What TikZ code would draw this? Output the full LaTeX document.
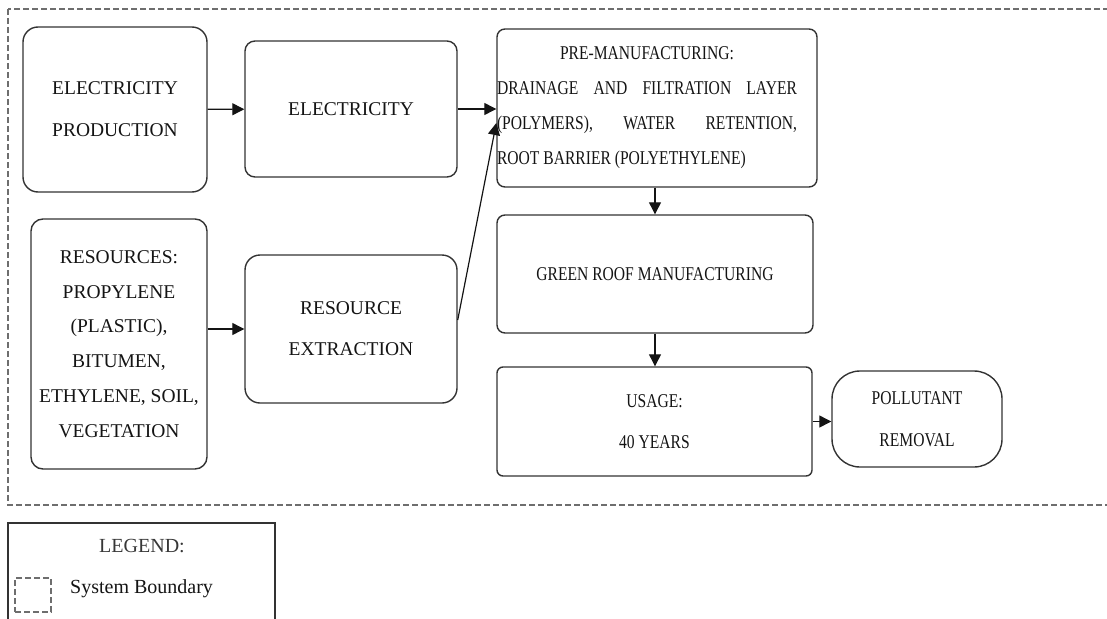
\documentclass[tikz,border=0pt]{standalone}
\usepackage{fontspec}
\setmainfont{Liberation Serif}
\newfontfamily\narrowserif[FakeStretch=0.8]{Liberation Serif}
\usetikzlibrary{arrows.meta}

\definecolor{ink}{HTML}{141414}
\definecolor{edge}{HTML}{333333}
\definecolor{dashgray}{HTML}{6E6E6E}

\tikzset{
  stage/.style={draw=edge, line width=1.4pt, text=ink, inner sep=0pt,
                align=center, font=\fontsize{19.5}{42}\selectfont},
  narrowstage/.style={stage, font=\narrowserif\fontsize{19.5}{41}\selectfont},
  flow/.style={draw=ink, line width=1.2pt, -{Triangle[length=12pt,width=12pt]}},
  boundary/.style={draw=dashgray, line width=1.1pt, dash pattern=on 6pt off 3pt},
}

\begin{document}
\begin{tikzpicture}[x=1pt, y=-1pt]
\useasboundingbox (0,0) rectangle (1107,618);

% system boundary (runs past the right edge)
\draw[boundary] (8,9) rectangle (1120,505);

% left column: inputs
\node[stage, rounded corners=15pt, minimum width=184pt, minimum height=165pt]
  (ep) at (115,109.5) {ELECTRICITY\\PRODUCTION};
\node[stage, rounded corners=12pt, minimum width=176pt, minimum height=250pt,
      font=\fontsize{19.5}{34.8}\selectfont]
  (res) at (119,344) {RESOURCES:\\PROPYLENE\\(PLASTIC),\\BITUMEN,\\ETHYLENE, SOIL,\\VEGETATION};

% middle column
\node[stage, rounded corners=10pt, minimum width=212pt, minimum height=136pt]
  (elec) at (351,109) {ELECTRICITY};
\node[stage, rounded corners=15pt, minimum width=212pt, minimum height=148pt,
      font=\fontsize{19.5}{41}\selectfont]
  (rex) at (351,329) {RESOURCE\\EXTRACTION};

% right column: production chain
\node[narrowstage, rounded corners=8pt, minimum width=320pt, minimum height=158pt]
  (pre) at (657,108) {\parbox{300pt}{\baselineskip=35pt\centering
     PRE-MANUFACTURING:\par
     \makebox[300pt][s]{DRAINAGE AND FILTRATION LAYER}\par
     \makebox[300pt][s]{(POLYMERS), WATER RETENTION,}\par
     \makebox[300pt][l]{ROOT BARRIER (POLYETHYLENE)}}\hspace*{20pt}};
\node[narrowstage, rounded corners=8pt, minimum width=316pt, minimum height=118pt]
  (grm) at (655,274) {GREEN ROOF MANUFACTURING};
\node[narrowstage, rounded corners=6pt, minimum width=315pt, minimum height=109pt]
  (use) at (654.5,421.5) {USAGE:\\40 YEARS};
\node[narrowstage, rounded corners=28pt, minimum width=170pt, minimum height=96pt,
      font=\narrowserif\fontsize{19.5}{42}\selectfont]
  (pol) at (917,419) {POLLUTANT\\REMOVAL};

% connectors
\draw[flow] (ep) -- (elec);
\draw[flow] (elec.east) -- (elec.east -| pre.west);
\draw[flow] ([yshift=9pt]rex.east) -- ([yshift=-15pt]pre.west);
\draw[flow] (rex.west -| res.east) -- (rex.west);
\draw[flow] (pre.south -| grm.north) -- (grm.north);
\draw[flow] (grm.south) -- (grm.south |- use.north);
\draw[flow] (use.east) -- (use.east -| pol.west);

% legend
\draw[draw=edge, line width=1.4pt] (8,523) rectangle (275,650);
\node[text=ink!85, font=\fontsize{20}{24}\selectfont] (legtitle) at (142,546) {LEGEND:};
\node[boundary, minimum width=36pt, minimum height=34pt, inner sep=0pt] (legkey) at (33,595) {};
\node[text=ink, anchor=west, inner sep=0pt, font=\fontsize{20}{24}\selectfont]
  (legtext) at (70,589) {System Boundary};
\end{tikzpicture}
\end{document}
